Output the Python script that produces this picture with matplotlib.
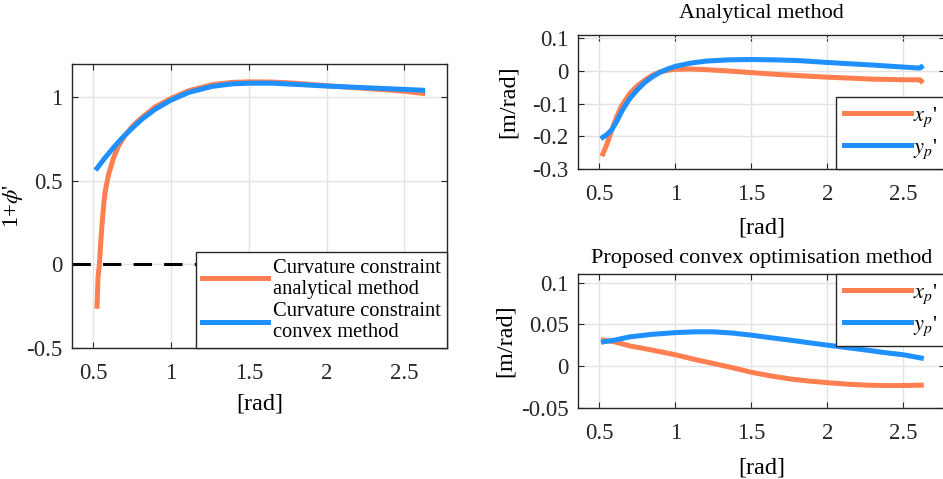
import matplotlib
matplotlib.use("Agg")
import matplotlib.pyplot as plt
import numpy as np

plt.rcParams['font.family'] = ['Liberation Serif', 'DejaVu Serif']
plt.rcParams['mathtext.fontset'] = 'stix'

ORANGE = '#FF7F50'
BLUE = '#1E90FF'

# ---- Left panel: 1 + phi'
left_an_x = [0.524, 0.530, 0.539, 0.547, 0.556, 0.567, 0.577, 0.599, 0.631, 0.663,
             0.706, 0.760, 0.813, 0.899, 1.0, 1.114, 1.264, 1.393, 1.5, 1.65,
             1.8, 2.0, 2.2, 2.4, 2.5, 2.618]
left_an_y = [-0.25, -0.076, 0.0, 0.124, 0.243, 0.363, 0.442, 0.542, 0.641, 0.711,
             0.777, 0.835, 0.880, 0.944, 0.994, 1.04, 1.076, 1.090, 1.093, 1.092,
             1.085, 1.07, 1.057, 1.044, 1.037, 1.024]
left_cv_x = [0.524, 0.577, 0.631, 0.685, 0.749, 0.813, 0.899, 1.0, 1.114, 1.264,
             1.393, 1.5, 1.65, 1.8, 2.0, 2.2, 2.4, 2.5, 2.618]
left_cv_y = [0.576, 0.641, 0.701, 0.757, 0.815, 0.870, 0.930, 0.984, 1.03, 1.066,
             1.081, 1.085, 1.085, 1.078, 1.068, 1.060, 1.052, 1.048, 1.043]

# ---- Top right: analytical method
an_x = [0.524, 0.55, 0.583, 0.62, 0.65, 0.7, 0.75, 0.8, 0.85, 0.9, 0.95, 1.0,
        1.1, 1.2, 1.35, 1.5, 1.65, 1.8, 2.0, 2.15, 2.3, 2.5, 2.6, 2.612, 2.618]
an_xp = [-0.254, -0.225, -0.18, -0.135, -0.105, -0.07, -0.046, -0.028, -0.013, -0.003,
         0.002, 0.005, 0.006, 0.004, 0.0, -0.005, -0.010, -0.014, -0.019, -0.022,
         -0.025, -0.027, -0.027, -0.028, -0.031]
an_yp = [-0.203, -0.195, -0.18, -0.15, -0.122, -0.085, -0.058, -0.035, -0.018, -0.004,
         0.006, 0.014, 0.024, 0.030, 0.034, 0.035, 0.034, 0.032, 0.026, 0.022,
         0.018, 0.012, 0.009, 0.0095, 0.012]

# ---- Bottom right: proposed convex optimisation method
cv_x = [0.528, 0.6, 0.704, 0.85, 1.0, 1.125, 1.25, 1.375, 1.5, 1.625, 1.755, 1.875,
        2.0, 2.13, 2.26, 2.38, 2.5, 2.618]
cv_xp = [0.031, 0.029, 0.024, 0.019, 0.0135, 0.008, 0.003, -0.002, -0.0075, -0.0118,
         -0.0155, -0.018, -0.020, -0.0218, -0.023, -0.0235, -0.0234, -0.023]
cv_yp = [0.029, 0.031, 0.035, 0.038, 0.040, 0.041, 0.041, 0.0395, 0.037, 0.034,
         0.031, 0.028, 0.025, 0.022, 0.019, 0.016, 0.0135, 0.0095]

xticks = [0.5, 1, 1.5, 2, 2.5]
xticklabels = ['0.5', '1', '1.5', '2', '2.5']

fig = plt.figure(figsize=(9.43, 4.79), dpi=100)

TFS = 16.5   # tick labels
LFS = 17.5   # axis labels
TIT = 16     # titles
LW = 3.6

def style(ax):
    ax.grid(True, color='#e3e3e3', linewidth=1.0)
    ax.set_axisbelow(True)
    for s in ax.spines.values():
        s.set_color('#262626')
        s.set_linewidth(1.0)
    ax.tick_params(direction='in', top=True, right=True, length=4, width=0.8,
                   colors='#262626', labelsize=TFS, pad=7)
    ax.tick_params(axis='x', pad=11)
    ax.set_xlim(0.363, 2.775)
    ax.set_xticks(xticks)
    ax.set_xticklabels(xticklabels)

# Left
ax1 = fig.add_axes([0.0764, 0.2735, 0.3977, 0.5929])
style(ax1)
ax1.axhline(0, color='black', linewidth=2.2, dashes=(6, 4), zorder=1.5)
ax1.plot(left_an_x, left_an_y, color=ORANGE, linewidth=LW,
         label='Curvature constraint\nanalytical method')
ax1.plot(left_cv_x, left_cv_y, color=BLUE, linewidth=LW,
         label='Curvature constraint\nconvex method')
ax1.set_ylim(-0.5, 1.2)
ax1.set_yticks([-0.5, 0, 0.5, 1])
ax1.set_yticklabels(['-0.5', '0', '0.5', '1'])
ax1.set_xlabel('[rad]', fontsize=LFS, labelpad=7)
ax1.set_ylabel(r"1+$\phi$'", fontsize=16.5)
ax1.yaxis.set_label_coords(-0.125, 0.5)
leg = ax1.legend(loc='lower right', fontsize=14.8, frameon=True, fancybox=False,
                 edgecolor='#262626', framealpha=1, borderaxespad=0,
                 handlelength=3.2, handletextpad=0.25, borderpad=0.3,
                 labelspacing=0.15)
for t in leg.get_texts():
    t.set_linespacing(1.15)
leg.get_frame().set_linewidth(1.0)

# Top right
ax2 = fig.add_axes([0.6133, 0.6472, 0.389, 0.2797])
style(ax2)
ax2.plot(an_x, an_xp, color=ORANGE, linewidth=LW, label=r"$x_p$'")
ax2.plot(an_x, an_yp, color=BLUE, linewidth=LW, label=r"$y_p$'")
ax2.set_ylim(-0.3, 0.11)
ax2.set_yticks([-0.3, -0.2, -0.1, 0, 0.1])
ax2.set_yticklabels(['-0.3', '-0.2', '-0.1', '0', '0.1'])
ax2.set_xlabel('[rad]', fontsize=LFS, labelpad=9)
ax2.set_ylabel('[m/rad]', fontsize=LFS)
ax2.yaxis.set_label_coords(-0.162, 0.5)
ax2.set_title('Analytical method', fontsize=TIT, pad=12)
leg2 = ax2.legend(loc='lower right', fontsize=16, frameon=True, fancybox=False,
                  edgecolor='#262626', framealpha=1, borderaxespad=0,
                  handlelength=3.0, handletextpad=0.1, borderpad=0.35,
                  labelspacing=0.4)
leg2.get_frame().set_linewidth(1.0)

# Bottom right
ax3 = fig.add_axes([0.6133, 0.1489, 0.389, 0.2785])
style(ax3)
ax3.plot(cv_x, cv_xp, color=ORANGE, linewidth=LW, label=r"$x_p$'")
ax3.plot(cv_x, cv_yp, color=BLUE, linewidth=LW, label=r"$y_p$'")
ax3.set_ylim(-0.05, 0.11)
ax3.set_yticks([-0.05, 0, 0.05, 0.1])
ax3.set_yticklabels(['-0.05', '0', '0.05', '0.1'])
ax3.set_xlabel('[rad]', fontsize=LFS, labelpad=10)
ax3.set_ylabel('[m/rad]', fontsize=LFS)
ax3.yaxis.set_label_coords(-0.170, 0.5)
ax3.set_title('Proposed convex optimisation method', fontsize=TIT, pad=8)
leg3 = ax3.legend(loc='upper right', fontsize=16, frameon=True, fancybox=False,
                  edgecolor='#262626', framealpha=1, borderaxespad=0,
                  handlelength=3.0, handletextpad=0.1, borderpad=0.35,
                  labelspacing=0.4)
leg3.get_frame().set_linewidth(1.0)

fig.savefig('out.png', dpi=100)
